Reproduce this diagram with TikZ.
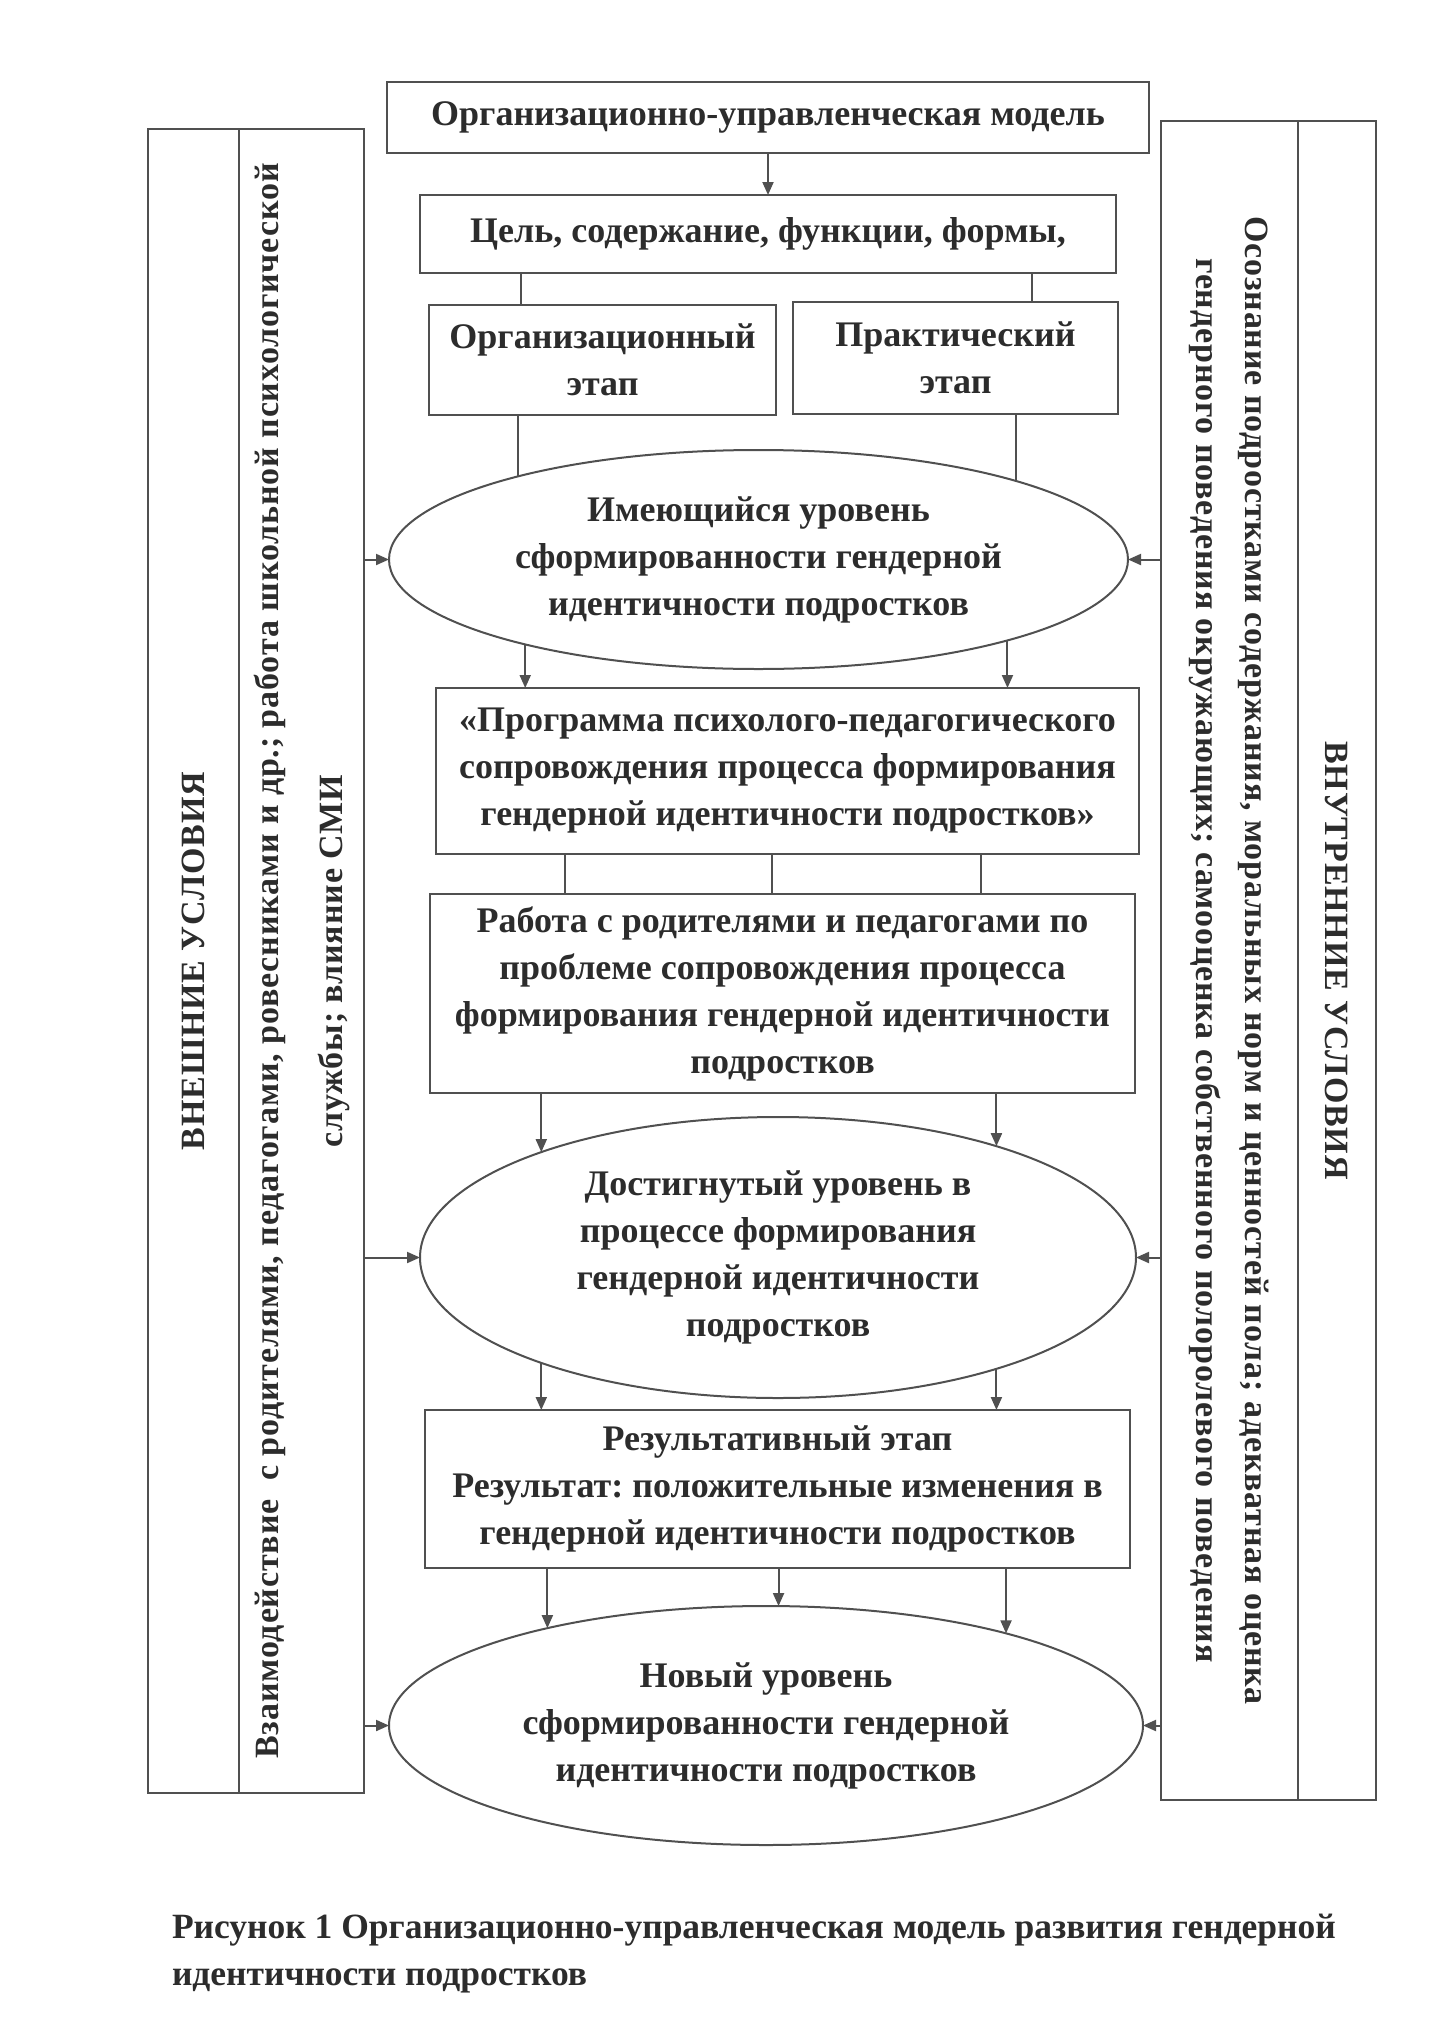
\documentclass[tikz,border=0pt]{standalone}
\usepackage{fontspec}
\setmainfont{Liberation Serif}
\newfontfamily\spacedfont[LetterSpace=2.5]{Liberation Serif}
\usetikzlibrary{
  shapes.geometric,
  arrows.meta,
  positioning,
  }
\definecolor{linegray}{HTML}{505050}
\definecolor{inkgray}{HTML}{2c2c2c}
\frenchspacing

\begin{document}
\begin{tikzpicture}[x=1pt, y=-1pt,
    every node/.style={draw=linegray, line width=2pt, text=inkgray, inner sep=0pt, outer sep=0pt,
      align=center, font=\fontsize{36}{47}\selectfont\bfseries},
    box/.style={rectangle},
    oval/.style={ellipse},
    side/.style={rectangle, font=\spacedfont\bfseries\fontsize{34}{49}\selectfont},
    link/.style={draw=linegray, line width=2pt},
    arr/.style={link, -{Triangle[length=13pt, width=11pt]}}]

\useasboundingbox (0,0) rectangle (1429,2021);

% middle column
\node[box, minimum width=762pt, minimum height=71pt] (model) at (768,117.5)
  {Организационно-управленческая модель};
\node[box, minimum width=696pt, minimum height=78pt] (goal) at (768,234)
  {Цель, содержание, функции, формы,};
\node[box, minimum width=347pt, minimum height=110pt] (org) at (602.5,360)
  {Организационный\\этап};
\node[box, minimum width=325pt, minimum height=112pt] (prac) at (955.5,358)
  {Практический\\этап};
\node[oval, minimum width=739pt, minimum height=219pt] (lvl1) at (758.5,559.5)
  {Имеющийся уровень\\сформированности гендерной\\идентичности подростков};
\node[box, minimum width=703pt, minimum height=166pt] (prog) at (787.5,771)
  {«Программа психолого-педагогического\\сопровождения процесса формирования\\гендерной идентичности подростков»};
\node[box, minimum width=705pt, minimum height=199pt] (work) at (782.5,993.5)
  {Работа с родителями и педагогами по\\проблеме сопровождения процесса\\формирования гендерной идентичности\\подростков};
\node[oval, minimum width=716pt, minimum height=281pt] (lvl2) at (778,1257.5)
  {Достигнутый уровень в\\процессе формирования\\гендерной идентичности\\подростков};
\node[box, minimum width=705pt, minimum height=158pt] (res) at (777.5,1489)
  {Результативный этап\\Результат: положительные изменения в\\гендерной идентичности подростков};
\node[oval, minimum width=754pt, minimum height=239pt] (lvl3) at (766,1725.5)
  {Новый уровень\\сформированности гендерной\\идентичности подростков};

% side columns
\node[side, rotate=90, minimum width=1664pt, minimum height=91pt] (extA) at (193.5,961)
  {ВНЕШНИЕ УСЛОВИЯ};
\node[side, rotate=90, minimum width=1664pt, minimum height=125pt,
  font=\spacedfont\bfseries\fontsize{34}{64}\selectfont] (extB) at (301.5,961)
  {Взаимодействие\ \ с родителями, педагогами, ровесниками и др.; работа школьной психологической\\службы; влияние СМИ};
\node[side, rotate=-90, minimum width=1679pt, minimum height=137pt] (intA) at (1229.5,960.5)
  {Осознание подростками содержания, моральных норм и ценностей пола; адекватная оценка\\гендерного поведения окружающих; самооценка собственного полоролевого поведения};
\node[side, rotate=-90, minimum width=1679pt, minimum height=78pt] (intB) at (1337,960.5)
  {ВНУТРЕННИЕ УСЛОВИЯ};

\node[draw=none, anchor=west, align=left, font=\fontsize{35.5}{47}\selectfont\bfseries] (cap) at (172,1954)
  {Рисунок 1 Организационно-управленческая модель развития гендерной\\идентичности подростков};

% connectors
\draw[arr] (model) -- (goal);
\draw[link] (goal.south -| 521,0) -- (org.north -| 521,0);
\draw[link] (goal.south -| 1032,0) -- (prac.north -| 1032,0);
\draw[link] (org.south -| lvl1.161) -- (lvl1.161);
\draw[link] (prac.south -| lvl1.17) -- (lvl1.17);
\draw[arr] (lvl1.200) -- (prog.north -| lvl1.200);
\draw[arr] (lvl1.-18) -- (prog.north -| lvl1.-18);
\foreach \x in {565,772,981}
  \draw[link] (prog.south -| \x,0) -- (work.north -| \x,0);
\draw[arr] (work.south -| lvl2.156) -- (lvl2.156);
\draw[arr] (work.south -| lvl2.27) -- (lvl2.27);
\draw[arr] (lvl2.204) -- (res.north -| lvl2.204);
\draw[arr] (lvl2.-27) -- (res.north -| lvl2.-27);
\draw[arr] (res.south -| lvl3.156) -- (lvl3.156);
\draw[arr] (res.south -| lvl3.84) -- (lvl3.84);
\draw[arr] (res.south -| lvl3.21) -- (lvl3.21);
\foreach \lv in {lvl1,lvl2,lvl3} {
  \draw[arr] (extB.south |- \lv.west) -- (\lv.west);
  \draw[arr] (intA.south |- \lv.east) -- (\lv.east);
}
\end{tikzpicture}
\end{document}
